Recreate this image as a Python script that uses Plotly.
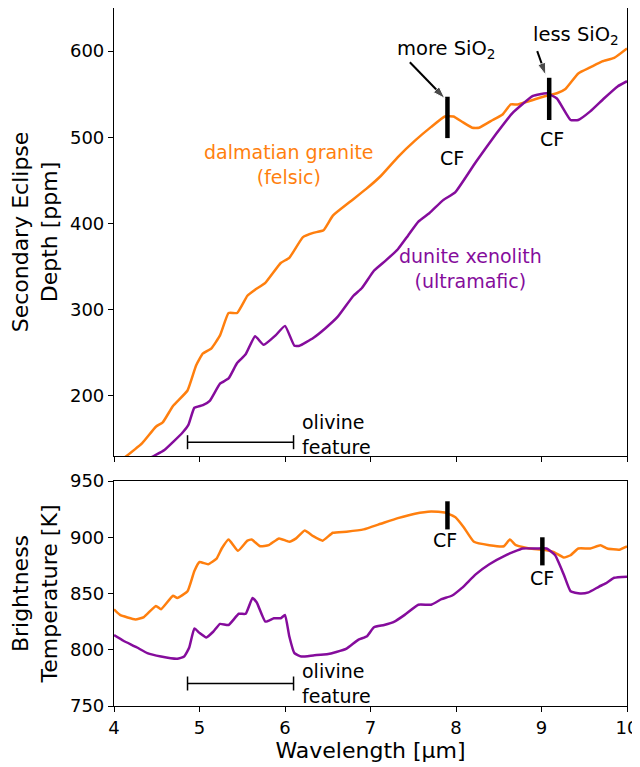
import plotly.graph_objects as go

# wavelength grid / values, per series
granite_top_x = [4.0, 4.11, 4.33, 4.49, 4.57, 4.69, 4.86, 4.96, 5.04, 5.14, 5.24, 5.34, 5.44, 5.56, 5.65,
                 5.77, 5.95, 6.05, 6.21, 6.33, 6.45, 6.56, 6.76, 6.95, 7.12, 7.32, 7.52, 7.71, 7.87, 7.97,
                 8.07, 8.19, 8.27, 8.43, 8.54, 8.64, 8.72, 8.86, 9.02, 9.18, 9.28, 9.43, 9.57, 9.71, 9.85, 10.0]
granite_top_y = [118, 127, 145, 164, 169, 188, 206, 235, 249, 255, 270, 296, 296, 316, 323,
                 331, 354, 360, 384, 389, 392, 409, 425, 440, 455, 477, 496, 512, 524, 524,
                 518, 511, 511, 520, 526, 538, 538, 542, 547, 551, 556, 574, 581, 588, 592, 603]

dunite_top_x = [4.3, 4.41, 4.59, 4.80, 4.87, 4.94, 5.04, 5.12, 5.24, 5.34, 5.44, 5.54, 5.65, 5.75, 5.89,
                6.0, 6.11, 6.17, 6.33, 6.47, 6.62, 6.80, 6.90, 7.04, 7.18, 7.32, 7.44, 7.56, 7.69, 7.85,
                7.99, 8.23, 8.47, 8.66, 8.90, 9.06, 9.18, 9.34, 9.43, 9.57, 9.73, 9.89, 10.0]
dunite_top_y = [118, 127, 137, 157, 166, 186, 189, 194, 214, 220, 238, 248, 269, 259, 270,
                281, 258, 258, 267, 278, 292, 316, 325, 345, 357, 370, 386, 402, 412, 427,
                436, 471, 504, 528, 548, 551, 545, 520, 520, 530, 545, 559, 565]

granite_bt_x = [4.0, 4.07, 4.25, 4.35, 4.49, 4.55, 4.69, 4.74, 4.86, 4.94, 5.0, 5.10, 5.20, 5.26, 5.34,
                5.45, 5.56, 5.61, 5.71, 5.81, 5.93, 6.05, 6.13, 6.23, 6.33, 6.44, 6.56, 6.72, 6.92, 7.12,
                7.32, 7.52, 7.71, 7.87, 7.99, 8.09, 8.21, 8.39, 8.56, 8.63, 8.70, 8.86, 9.02, 9.14, 9.26,
                9.34, 9.43, 9.57, 9.69, 9.77, 9.91, 10.0]
granite_bt_y = [836, 831, 827, 829, 839, 836, 848, 846, 852, 870, 878, 876, 881, 890, 898,
                888, 897, 898, 892, 893, 899, 896, 899, 906, 901, 897, 904, 905, 907, 912,
                917, 921, 923, 922, 918, 909, 896, 893, 892, 898, 893, 890, 889, 887, 882,
                884, 890, 890, 893, 890, 889, 892]

dunite_bt_x = [4.0, 4.11, 4.27, 4.39, 4.55, 4.74, 4.82, 4.88, 4.94, 5.0, 5.08, 5.16, 5.24, 5.34, 5.46,
               5.54, 5.62, 5.67, 5.77, 5.87, 5.95, 6.0, 6.05, 6.11, 6.19, 6.33, 6.49, 6.60, 6.72, 6.86,
               6.96, 7.04, 7.16, 7.28, 7.40, 7.56, 7.71, 7.83, 7.95, 8.07, 8.23, 8.39, 8.58, 8.78, 8.94,
               9.06, 9.16, 9.26, 9.34, 9.45, 9.55, 9.67, 9.75, 9.85, 10.0]
dunite_bt_y = [813, 808, 802, 797, 794, 792, 794, 802, 819, 815, 811, 816, 823, 822, 832,
               832, 846, 842, 825, 828, 828, 831, 812, 797, 794, 795, 796, 798, 801, 809,
               812, 820, 822, 825, 831, 840, 840, 845, 848, 855, 867, 876, 884, 890, 890,
               890, 884, 867, 852, 850, 851, 856, 859, 864, 865]

# annotation markers
olivine_range = [4.86, 6.10]
cf_top_x = [7.90, 9.09]
cf_top_lo = [499, 520]
cf_top_hi = [547, 569]
cf_bt_x = [7.90, 9.01]
cf_bt_lo = [907, 875]
cf_bt_hi = [932, 900]
# arrows: (tail x, tail y, head x, head y)
arrow_more = [7.46, 587, 7.87, 545]
arrow_less = [8.95, 600, 9.05, 572]

ORANGE = '#ff7f0e'
PURPLE = '#850c9c'
FONT = 'DejaVu Sans'
PAGE_PAD = 8  # browser body margin, the figure is shifted by this much

fig = go.Figure()

# spectra
for xs, ys, col, ax_ in [(granite_top_x, granite_top_y, ORANGE, 'y'),
                         (dunite_top_x, dunite_top_y, PURPLE, 'y'),
                         (granite_bt_x, granite_bt_y, ORANGE, 'y2'),
                         (dunite_bt_x, dunite_bt_y, PURPLE, 'y2')]:
    fig.add_trace(go.Scatter(x=xs, y=ys, mode='lines', yaxis=ax_, xaxis='x' if ax_ == 'y' else 'x2',
                             line=dict(color=col, width=2.5, shape='spline', smoothing=0.4),
                             showlegend=False, hoverinfo='skip'))

# CF bars
for xs, lo, hi, xa, ya in [(cf_top_x, cf_top_lo, cf_top_hi, 'x', 'y'),
                           (cf_bt_x, cf_bt_lo, cf_bt_hi, 'x2', 'y2')]:
    for xv, a, b in zip(xs, lo, hi):
        fig.add_trace(go.Scatter(x=[xv, xv], y=[a, b], mode='lines', xaxis=xa, yaxis=ya,
                                 line=dict(color='black', width=4.5), showlegend=False, hoverinfo='skip'))

# olivine feature bars
for xa, ya, yv in [('x', 'y', 146), ('x2', 'y2', 770)]:
    fig.add_trace(go.Scatter(x=olivine_range, y=[yv, yv], mode='lines+markers', xaxis=xa, yaxis=ya,
                             line=dict(color='black', width=1.5),
                             marker=dict(symbol='line-ns-open', size=10, line=dict(width=1.5, color='black')),
                             showlegend=False, hoverinfo='skip'))

# arrows pointing at the CF bars
for a in [arrow_more, arrow_less]:
    fig.add_trace(go.Scatter(x=[a[0], a[2]], y=[a[1], a[3]], mode='lines+markers', xaxis='x', yaxis='y',
                             line=dict(color='black', width=2),
                             marker=dict(symbol=['circle', 'arrow'], size=[0, 13], angleref='previous',
                                         color='black', standoff=0),
                             showlegend=False, hoverinfo='skip'))

ann = []
def txt(x, y, s, xref, yref, color='black', size=19, align='center', xanchor='center'):
    ann.append(dict(x=x, y=y, xref=xref, yref=yref, text=s, showarrow=False, align=align,
                    xanchor=xanchor, yanchor='middle', font=dict(family=FONT, size=size, color=color)))

txt(6.05, 468, 'dalmatian granite<br>(felsic)', 'x', 'y', ORANGE)
txt(8.17, 348, 'dunite xenolith<br>(ultramafic)', 'x', 'y', PURPLE)
txt(7.89, 602, 'more SiO<sub>2</sub>', 'x', 'y', size=19.5)
txt(9.40, 618, 'less SiO<sub>2</sub>', 'x', 'y', size=19.5)
txt(7.95, 476, 'CF', 'x', 'y')
txt(9.12, 498, 'CF', 'x', 'y')
txt(6.18, 155, 'olivine<br>feature', 'x', 'y', align='left', xanchor='left')
txt(7.87, 898, 'CF', 'x2', 'y2')
txt(9.00, 864, 'CF', 'x2', 'y2')
txt(6.18, 770, 'olivine<br>feature', 'x2', 'y2', align='left', xanchor='left')

axis_common = dict(showline=True, linecolor='black', linewidth=1.2, mirror=True, ticks='outside',
                   ticklen=5, tickwidth=1.2, tickcolor='black', showgrid=False, zeroline=False,
                   automargin=False, tickfont=dict(family=FONT, size=18, color='black'))

fig.update_layout(
    width=640 - PAGE_PAD, height=767 - PAGE_PAD,
    margin=dict(l=114 - PAGE_PAD, r=13, t=0, b=61),
    plot_bgcolor='white', paper_bgcolor='white',
    font=dict(family=FONT, color='black'),
    xaxis=dict(domain=[0, 1], anchor='y', range=[4, 10], dtick=1, showticklabels=False, **axis_common),
    yaxis=dict(domain=[0.3582, 1], anchor='x', range=[130, 650], tickvals=[200, 300, 400, 500, 600],
               title=dict(text='Secondary Eclipse<br>Depth [ppm]', font=dict(family=FONT, size=22), standoff=8),
               **axis_common),
    xaxis2=dict(domain=[0, 1], anchor='y2', range=[4, 10], dtick=1, matches='x',
                title=dict(text='Wavelength [µm]', font=dict(family=FONT, size=22), standoff=4),
                **axis_common),
    yaxis2=dict(domain=[0, 0.3223], anchor='x2', range=[750, 950], dtick=50,
                title=dict(text='Brightness<br>Temperature [K]', font=dict(family=FONT, size=22), standoff=8),
                **axis_common),
    annotations=ann,
)

fig.write_html("out.html")
